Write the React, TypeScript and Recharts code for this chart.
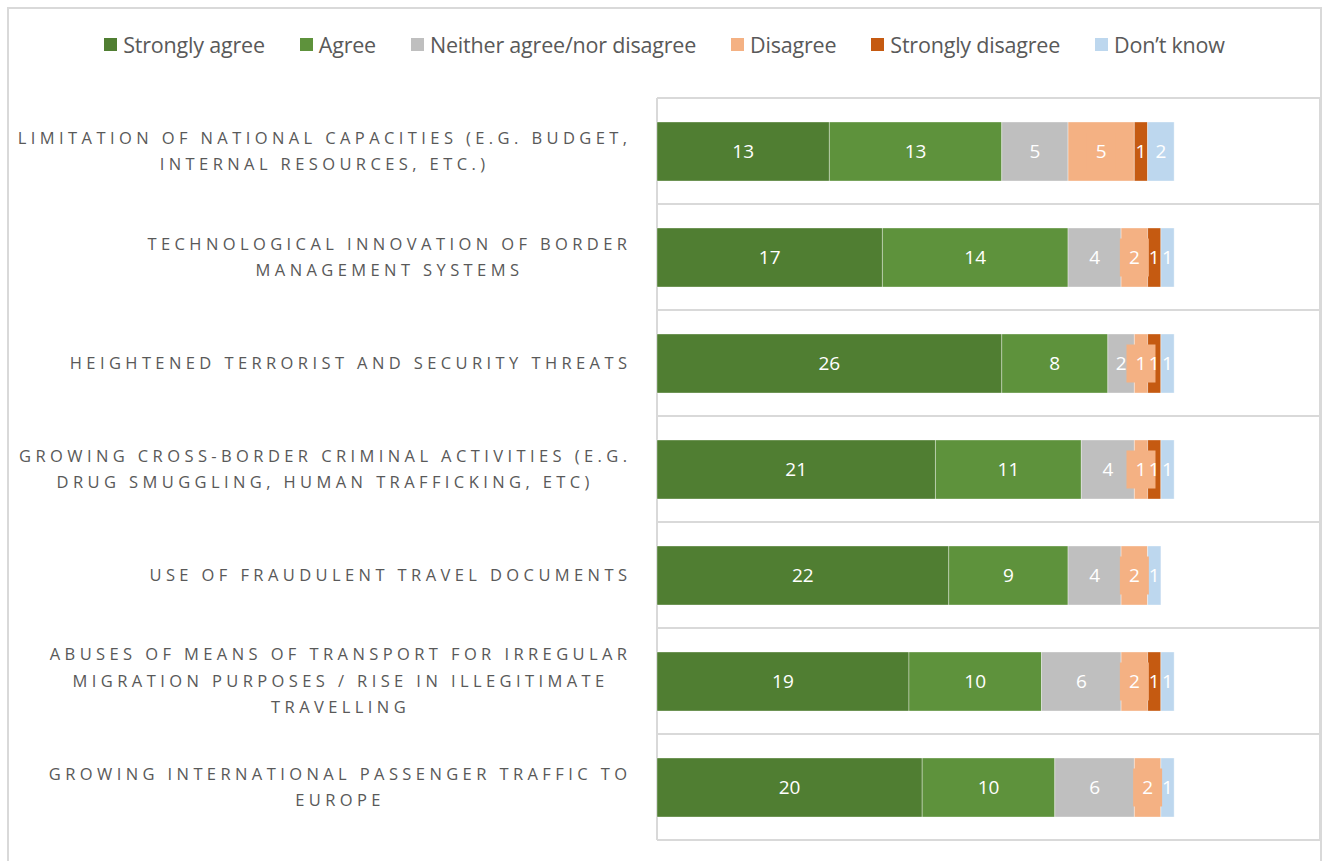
import { BarChart, Bar, XAxis, YAxis, CartesianGrid, LabelList } from 'recharts';

const categories = [
  'LIMITATION OF NATIONAL CAPACITIES (E.G. BUDGET,\nINTERNAL RESOURCES, ETC.)',
  'TECHNOLOGICAL INNOVATION OF BORDER\nMANAGEMENT SYSTEMS',
  'HEIGHTENED TERRORIST AND SECURITY THREATS',
  'GROWING CROSS-BORDER CRIMINAL ACTIVITIES (E.G.\nDRUG SMUGGLING, HUMAN TRAFFICKING, ETC)',
  'USE OF FRAUDULENT TRAVEL DOCUMENTS',
  'ABUSES OF MEANS OF TRANSPORT FOR IRREGULAR\nMIGRATION PURPOSES / RISE IN ILLEGITIMATE\nTRAVELLING',
  'GROWING INTERNATIONAL PASSENGER TRAFFIC TO\nEUROPE',
];

const stronglyAgree = [13, 17, 26, 21, 22, 19, 20];
const agree = [13, 14, 8, 11, 9, 10, 10];
const neither = [5, 4, 2, 4, 4, 6, 6];
const disagree = [5, 2, 1, 1, 2, 2, 2];
const stronglyDisagree = [1, 1, 1, 1, 0, 1, 0];
const dontKnow = [2, 1, 1, 1, 1, 1, 1];

const series = [
  { key: 'sa', name: 'Strongly agree', color: '#507E32', values: stronglyAgree },
  { key: 'a', name: 'Agree', color: '#5E923C', values: agree },
  { key: 'n', name: 'Neither agree/nor disagree', color: '#BFBFBF', values: neither },
  { key: 'd', name: 'Disagree', color: '#F4B183', values: disagree },
  { key: 'sd', name: 'Strongly disagree', color: '#C55A11', values: stronglyDisagree },
  { key: 'dk', name: 'Don\u2019t know', color: '#BDD7EE', values: dontKnow },
];

const data = categories.map((name, i) => {
  const row: any = { name };
  series.forEach((s) => (row[s.key] = s.values[i]));
  return row;
});

document.documentElement.style.overflow = 'hidden';
document.body.style.margin = '0';

const FONT = '"Open Sans", sans-serif';
const TICK_SIZE = 16.5;
const TICK_SPACING = 4.4;

let ctx: CanvasRenderingContext2D | null = null;
function textWidth(t: string) {
  if (!ctx) ctx = document.createElement('canvas').getContext('2d');
  if (!ctx) return t.length * 13;
  ctx.font = `${TICK_SIZE}px "Open Sans"`;
  return ctx.measureText(t).width + TICK_SPACING * (t.length - 1);
}

function CategoryTick(props: any) {
  const { x, y, payload } = props;
  const lines = String(payload.value).split('\n');
  const w = Math.max(...lines.map(textWidth));
  const cx = x - 22 - w / 2;
  const lh = 26.5;
  const start = y - ((lines.length - 1) * lh) / 2;
  return (
    <g>
      {lines.map((l, i) => (
        <text
          key={i}
          x={cx + TICK_SPACING / 2}
          y={start + i * lh}
          dy="0.36em"
          textAnchor="middle"
          fill="#595959"
          fontSize={TICK_SIZE}
          fontFamily={FONT}
          letterSpacing={TICK_SPACING}
        >
          {l}
        </text>
      ))}
    </g>
  );
}

const hideZero = (v: any) => (v === 0 ? '' : v);

function BoxLabel(props: any) {
  const { x, y, width, height, value } = props;
  if (!value) return null;
  const cx = x + width / 2;
  const cy = y + height / 2;
  return (
    <g>
      <rect x={cx - 14.5} y={cy - 19} width={29} height={38} fill="#F4B183" />
      <text x={cx} y={cy} dy="0.36em" textAnchor="middle" fill="#fff" fontSize={19} fontFamily={FONT}>
        {value}
      </text>
    </g>
  );
}

function Legend() {
  return (
    <div
      style={{
        position: 'absolute',
        top: 22,
        left: 0,
        width: 1313,
        display: 'flex',
        justifyContent: 'center',
        gap: 35,
        fontFamily: FONT,
        fontSize: 21.5,
        color: '#595959',
        letterSpacing: -0.2,
      }}
    >
      {series.map((s) => (
        <div key={s.key} style={{ display: 'flex', alignItems: 'center' }}>
          <span style={{ width: 13, height: 13, background: s.color, marginRight: 6, display: 'inline-block' }} />
          <span>{s.name}</span>
        </div>
      ))}
    </div>
  );
}

export default function App() {
  return (
    <div style={{ width: 1323, height: 861, paddingLeft: 8, paddingTop: 8, boxSizing: 'border-box' }}>
      <div style={{ position: 'relative', width: 1313, height: 845 }}>
        <div
          style={{
            position: 'absolute',
            left: -1,
            top: -1,
            width: 1315,
            height: 854,
            border: '2px solid #d9d9d9',
            borderBottom: 'none',
            boxSizing: 'border-box',
          }}
        />
        <Legend />
        <div style={{ position: 'absolute', left: 0, top: 0 }}>
          <BarChart
            width={1313}
            height={840}
            data={data}
            layout="vertical"
            margin={{ top: 90, right: 1, bottom: 8, left: 0 }}
            barSize={59}
          >
            <CartesianGrid
              stroke="#d9d9d9"
              strokeWidth={2}
              horizontalCoordinatesGenerator={({ offset }: any) =>
                categories.map((_, i) => offset.top + (i * offset.height) / categories.length).concat(offset.top + offset.height)
              }
              verticalCoordinatesGenerator={({ offset }: any) => [offset.left, offset.left + offset.width]}
            />
            <XAxis type="number" domain={[0, 50]} hide />
            <YAxis
              type="category"
              dataKey="name"
              width={649}
              axisLine={false}
              tickLine={false}
              tick={<CategoryTick />}
              interval={0}
            />
            {series.map((s) => (
              <Bar
                key={s.key}
                dataKey={s.key}
                name={s.name}
                stackId="a"
                fill={s.color}
                stroke="#ffffff"
                strokeOpacity={0.35}
                strokeWidth={1}
                isAnimationActive={false}
              >
                {s.key === 'd' ? (
                  <LabelList dataKey={s.key} content={<BoxLabel />} />
                ) : (
                  <LabelList
                    dataKey={s.key}
                    position="center"
                    fill="#ffffff"
                    fontSize={19}
                    fontFamily={FONT}
                    formatter={hideZero}
                  />
                )}
              </Bar>
            ))}
          </BarChart>
        </div>
      </div>
    </div>
  );
}
